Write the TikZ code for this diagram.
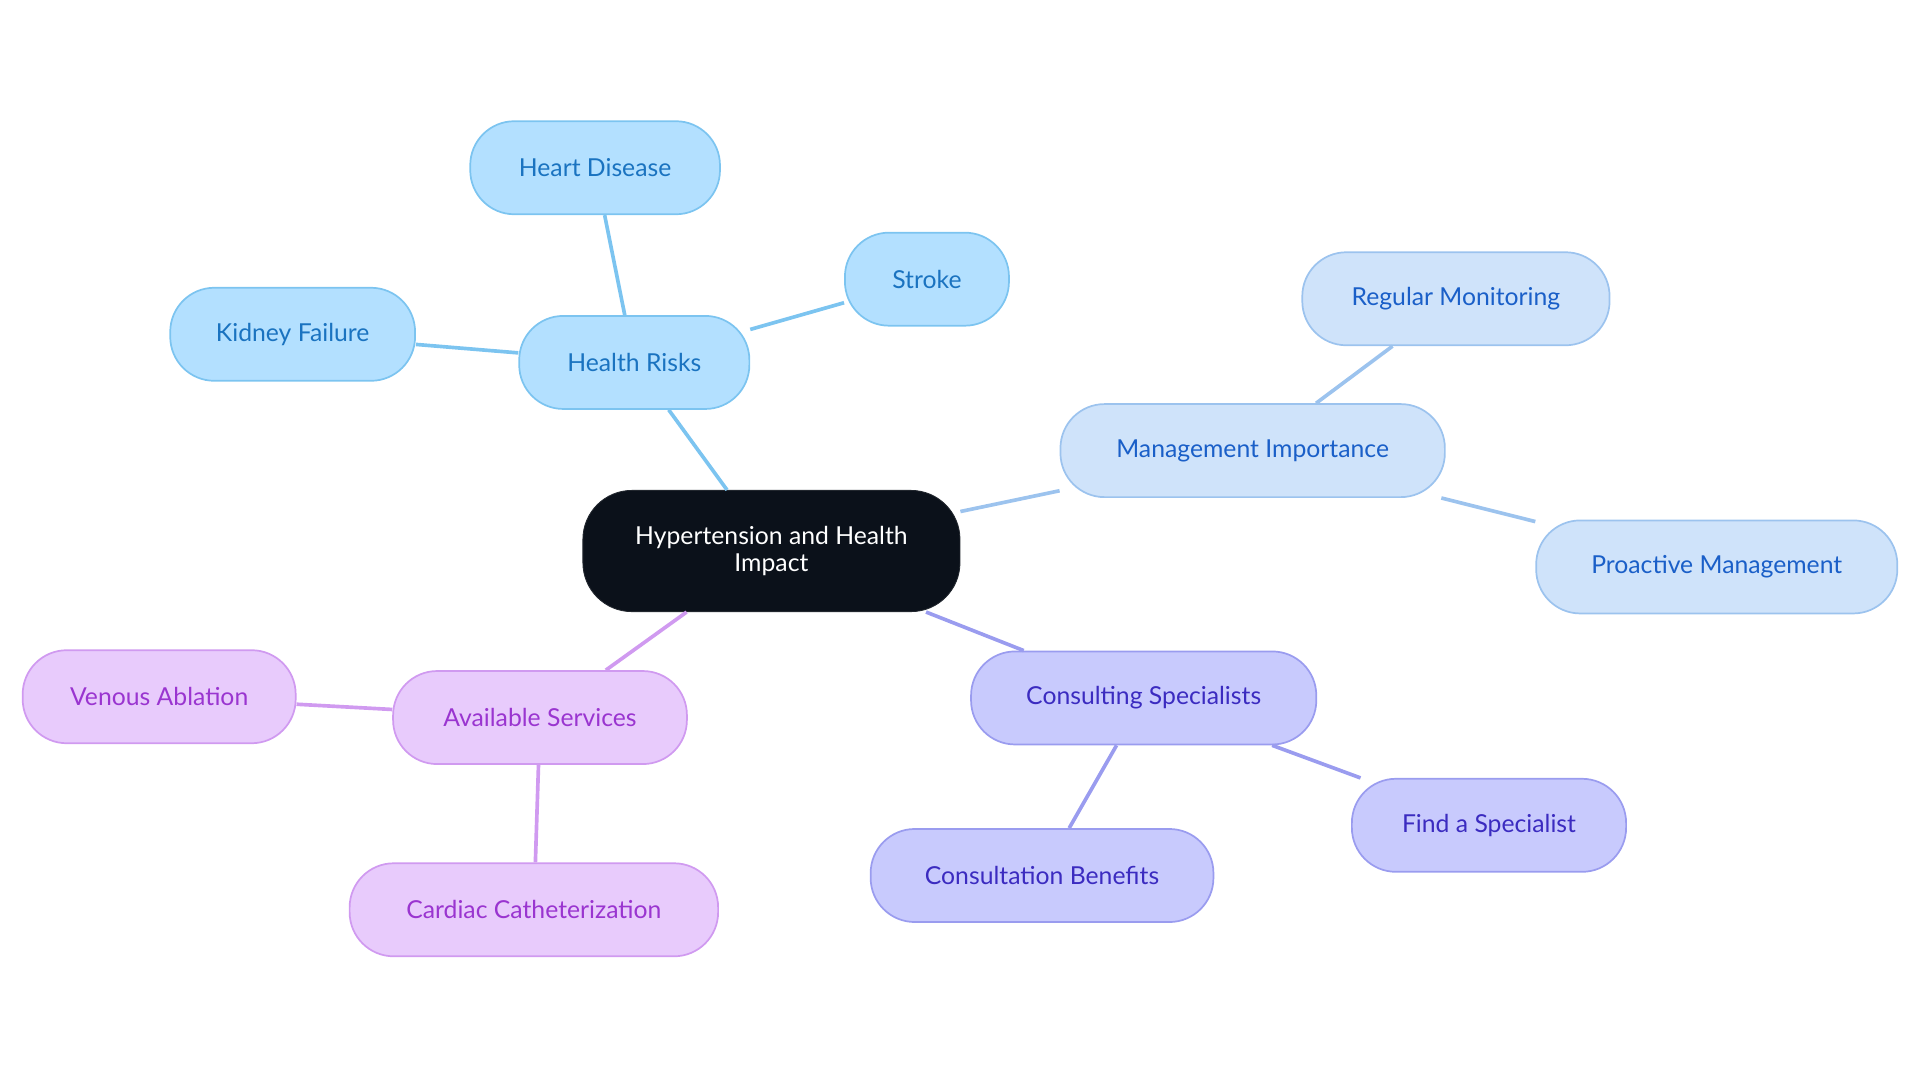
\documentclass[tikz,border=0pt]{standalone}
\usepackage{fontspec}
\setmainfont{Lato}
\definecolor{hrF}{HTML}{B3E0FF}\definecolor{hrD}{HTML}{7CC4F0}\definecolor{hrT}{HTML}{1A73C0}
\definecolor{miF}{HTML}{CFE3FA}\definecolor{miD}{HTML}{9CC3EE}\definecolor{miT}{HTML}{1A5FC8}
\definecolor{csF}{HTML}{C8CAFD}\definecolor{csD}{HTML}{9A9CEF}\definecolor{csT}{HTML}{3B2BC0}
\definecolor{asF}{HTML}{E8CBFC}\definecolor{asD}{HTML}{D09AF0}\definecolor{asT}{HTML}{9A35D0}
\definecolor{ctr}{HTML}{0B111A}
\begin{document}
\begin{tikzpicture}[x=0.02cm,y=-0.02cm,
  box/.style={rounded corners=0.72cm,minimum height=1.52cm,line width=0.8pt,draw=#1D,fill=#1F,text=#1T,font=\fontsize{11.5}{14}\selectfont,inner sep=0pt},
  link/.style={line width=1.7pt,draw=#1D}]
\useasboundingbox (0,0) rectangle (1568,884);
\node[rounded corners=0.8cm,fill=ctr,draw=ctr!80!gray,minimum width=6.16cm,minimum height=1.98cm,text=white,align=center,font=\fontsize{11.5}{13}\selectfont] (c) at (630,450) {Hypertension and Health\\Impact};
\node[box=hr,minimum width=3.76cm] (hr) at (518,296) {Health Risks};
\node[box=hr,minimum width=4.08cm] (hd) at (486,137) {Heart Disease};
\node[box=hr,minimum width=2.68cm] (st) at (757,228) {Stroke};
\node[box=hr,minimum width=4.0cm] (kf) at (239,273) {Kidney Failure};
\node[box=mi,minimum width=6.28cm] (mi) at (1023,368) {Management Importance};
\node[box=mi,minimum width=5.02cm] (rm) at (1189,244) {Regular Monitoring};
\node[box=mi,minimum width=5.9cm] (pm) at (1402,463) {Proactive Management};
\node[box=cs,minimum width=5.64cm] (cs) at (934,570) {Consulting Specialists};
\node[box=cs,minimum width=4.48cm] (fs) at (1216,674) {Find a Specialist};
\node[box=cs,minimum width=5.6cm] (cb) at (851,715) {Consultation Benefits};
\node[box=as,minimum width=4.8cm] (as) at (441,586) {Available Services};
\node[box=as,minimum width=4.46cm] (va) at (130,569) {Venous Ablation};
\node[box=as,minimum width=6.02cm] (cc) at (436,743) {Cardiac Catheterization};
\draw[link=hr] (c) -- (hr); \draw[link=hr] (hr) -- (hd); \draw[link=hr] (hr) -- (st); \draw[link=hr] (hr) -- (kf);
\draw[link=mi] (c) -- (mi); \draw[link=mi] (mi) -- (rm); \draw[link=mi] (mi) -- (pm);
\draw[link=cs] (c) -- (cs); \draw[link=cs] (cs) -- (fs); \draw[link=cs] (cs) -- (cb);
\draw[link=as] (c) -- (as); \draw[link=as] (as) -- (va); \draw[link=as] (as) -- (cc);
\end{tikzpicture}
\end{document}
